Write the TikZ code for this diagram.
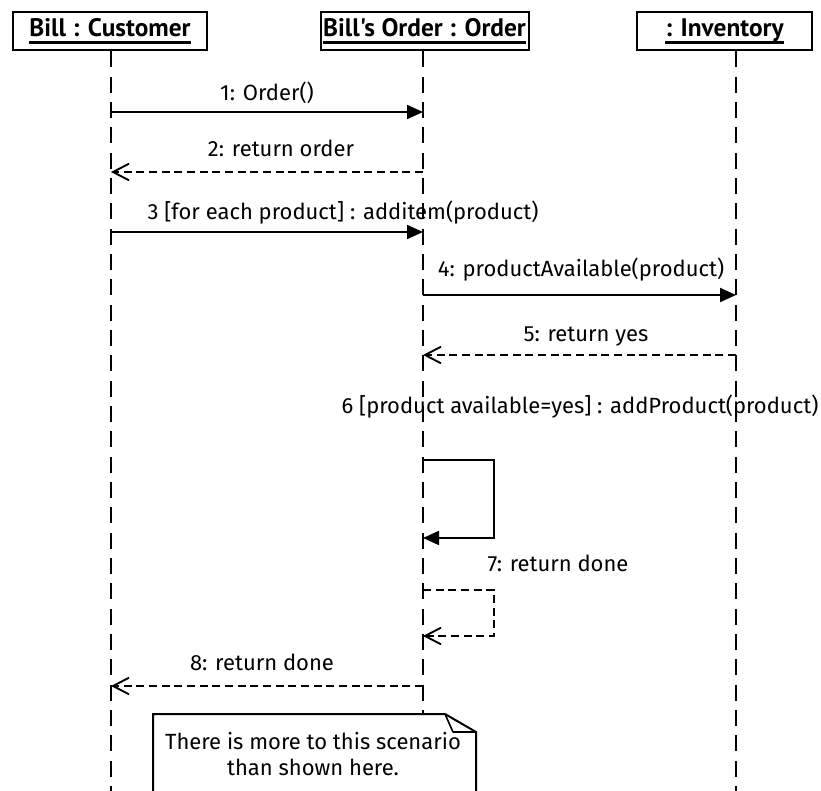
\documentclass[tikz,border=0pt]{standalone}
\usepackage{fontspec}
\setmainfont{Fira Sans}
\newfontfamily\titlefont{PT Sans}
\usetikzlibrary{arrows.meta}
\newcommand\objname[1]{\vtop{\hbox{\vrule depth 3.6pt width 0pt height 0pt #1}\kern0pt\hrule height 1.8pt}}
\begin{document}
\begin{tikzpicture}[x=0.75pt,y=-0.75pt,
  objbox/.style={draw,line width=1.5pt,minimum height=29pt,inner sep=0pt,font=\titlefont\fontsize{19}{21}\selectfont\bfseries},
  lifeline/.style={line width=2pt,dash pattern=on 12pt off 7pt},
  callmsg/.style={line width=1.5pt,-{Triangle[length=12pt,width=10.5pt]}},
  retmsg/.style={line width=1.4pt,dash pattern=on 6pt off 3.5pt,-{Straight Barb[length=12pt,width=12.5pt,line width=1.4pt]}},
  msglbl/.style={font=\fontsize{16.5}{18}\selectfont,inner sep=0pt},
  notetxt/.style={font=\fontsize{16.5}{20}\selectfont,align=center,inner sep=0pt},
  noteshape/.style={line width=1.5pt,fill=white}]
\useasboundingbox (0,0) rectangle (821,791);
\fill[white] (0,0) rectangle (821,791);
\clip (0,0) rectangle (821,791);
% objects
\node[objbox,minimum width=146pt] (cust) at (110,31) {\objname{Bill : Customer}};
\node[objbox,minimum width=156pt] (ord) at (424.5,31) {\objname{Bill's Order : Order}};
\node[objbox,minimum width=131pt] (inv) at (724.5,31) {\objname{: Inventory}};
% lifeline ends
\coordinate (custbot) at (111,800);
\coordinate (ordbot) at (423,800);
\coordinate (invbot) at (736,800);
\draw[lifeline] (cust.south -| custbot) -- (custbot);
\draw[lifeline] (ord.south -| ordbot) -- (ordbot);
\draw[lifeline] (inv.south -| invbot) -- (invbot);
% message points
\coordinate (m1s) at (111,112); \coordinate (m1e) at (423,112);
\coordinate (m2s) at (423,172); \coordinate (m2e) at (111,172);
\coordinate (m3s) at (111,232); \coordinate (m3e) at (423,232);
\coordinate (m4s) at (423,295); \coordinate (m4e) at (736,295);
\coordinate (m5s) at (736,355); \coordinate (m5e) at (423,355);
\coordinate (m6s) at (423,460); \coordinate (m6a) at (494,460);
\coordinate (m6b) at (494,538); \coordinate (m6e) at (423,538);
\coordinate (m7s) at (423,590); \coordinate (m7a) at (494,590);
\coordinate (m7b) at (494,636); \coordinate (m7e) at (423,636);
\coordinate (m8s) at (423,686); \coordinate (m8e) at (111,686);
% messages
\draw[callmsg] (m1s) -- (m1e);
\draw[retmsg] (m2s) -- (m2e);
\draw[callmsg] (m3s) -- (m3e);
\draw[callmsg] (m4s) -- (m4e);
\draw[retmsg] (m5s) -- (m5e);
\draw[callmsg] (m6s) -- (m6a) -- (m6b) -- (m6e);
\draw[retmsg] (m7s) -- (m7a) -- (m7b) -- (m7e);
\draw[retmsg] (m8s) -- (m8e);
% labels
\node[msglbl] (l1) at (267,93) {1: Order()};
\node[msglbl] (l2) at (281,148) {2: return order};
\node[msglbl] (l3) at (343,213) {3 [for each product] : additem(product)};
\node[msglbl] (l4) at (581,270) {4: productAvailable(product)};
\node[msglbl] (l5) at (586,336) {5: return yes};
\node[msglbl] (l6) at (580,407) {6 [product available=yes] : addProduct(product)};
\node[msglbl] (l7) at (558,563) {7: return done};
\node[msglbl] (l8) at (262,662) {8: return done};
% note
\coordinate (nbl) at (153,800);
\coordinate (ntl) at (153,714);
\coordinate (nf1) at (445,714);
\coordinate (nf2) at (476,732);
\coordinate (nf3) at (453,732);
\coordinate (nbr) at (476,800);
\draw[noteshape] (nbl) -- (ntl) -- (nf1) -- (nf2) -- (nbr);
\draw[line width=1.2pt,line join=round] (nf1) -- (nf3) -- (nf2);
\node[notetxt] (note) at (313,754) {There is more to this scenario\\than shown here.};
\end{tikzpicture}
\end{document}
